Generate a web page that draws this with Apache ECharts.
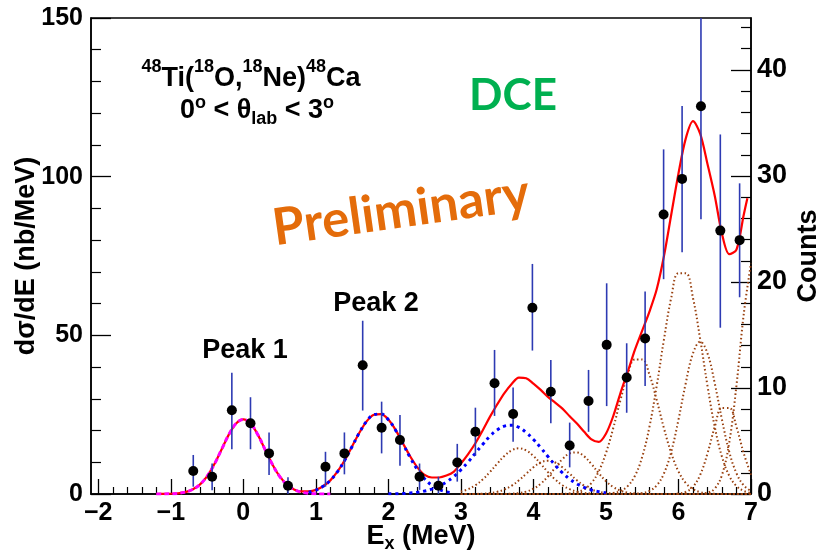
<!DOCTYPE html>
<html>
<head>
<meta charset="utf-8">
<script src="https://cdn.jsdelivr.net/npm/echarts@6/dist/echarts.min.js"></script>
<style>
html,body{margin:0;padding:0;background:#fff;}
#c{width:816px;height:554px;}
</style>
</head>
<body>
<div id="c"></div>
<script>
// ---- data points (E_x in MeV, dσ/dE in nb/MeV) ----
const pointE   = [-0.69,-0.43,-0.158,0.099,0.355,0.616,1.133,1.394,1.646,1.907,2.16,2.43,2.69,2.95,3.20,3.464,3.72,3.986,4.24,4.50,4.76,5.01,5.286,5.54,5.795,6.05,6.31,6.577,6.843];
const pointVal = [7.25,5.45,26.4,22.3,12.8,2.6,8.6,12.8,40.6,20.9,17.0,5.45,2.6,9.9,19.6,34.9,25.2,58.7,32.2,15.3,29.3,47.0,36.7,49.0,88.1,99.3,122.2,83.0,80.0];
const errLow   = [2.3,1.2,14.1,14.1,6.0,0,2.3,6.2,26.3,12.8,8.9,1.3,0,3.9,12.0,24.6,16.5,45.2,22.3,8.4,19.6,27.7,25.6,34.0,67.7,76.2,86.6,52.4,62.0];
const errHigh  = [12.3,9.6,38.2,30.5,19.4,5.3,13.3,19.4,54.6,29.1,24.9,9.6,5.45,15.8,27.2,45.4,33.6,72.5,42.2,22.5,39.1,66.4,47.5,63.8,108.6,122.3,158,113.3,97.9];

// ---- total fit (red) ----
const totalFit = [[-1.2,0.005],[-1.1,0.02],[-1.0,0.075],[-0.9,0.22],[-0.8,0.59],[-0.7,1.41],[-0.6,2.97],[-0.5,5.58],[-0.4,9.37],[-0.3,14.0],[-0.2,18.7],[-0.1,22.2],[0,23.5],[0.1,22.2],[0.2,18.7],[0.3,14.0],[0.4,9.4],[0.5,5.6],[0.6,3.0],[0.7,1.45],[0.8,0.8],[0.9,0.85],[1.0,1.3],[1.1,2.45],[1.2,4.3],[1.3,7.1],[1.4,10.7],[1.5,15.0],[1.6,19.3],[1.7,22.9],[1.8,25.0],[1.9,25.2],[2.0,23.5],[2.1,20.2],[2.2,16.0],[2.3,11.9],[2.4,8.4],[2.5,6.0],[2.6,5.2],[2.7,5.2],[2.8,5.8],[2.9,7.0],[3.0,9.6],[3.1,12.6],[3.2,16.0],[3.3,20.0],[3.4,24.3],[3.5,28.2],[3.6,31.8],[3.7,34.7],[3.8,36.7],[3.9,36.5],[4.0,34.8],[4.1,32.8],[4.2,30.6],[4.3,28.8],[4.4,26.9],[4.5,24.5],[4.6,22.2],[4.7,19.6],[4.8,17.2],[4.9,16.4],[5.0,19.0],[5.1,24.5],[5.2,31.8],[5.3,38.5],[5.4,45.5],[5.5,51.5],[5.6,57.5],[5.7,64.5],[5.8,75],[5.9,88],[6.0,101],[6.1,112],[6.2,117.5],[6.3,113.5],[6.4,104],[6.5,94],[6.6,82],[6.7,75.6],[6.8,77],[6.9,88],[6.95,93.2]];

// ---- Peak 1 component (magenta) ----
const peak1E   = [-1.2,-1.1,-1.0,-0.9,-0.8,-0.7,-0.6,-0.5,-0.4,-0.3,-0.2,-0.1,0,0.1,0.2,0.3,0.4,0.5,0.6,0.7,0.8,0.9,1.0,1.1,1.2];
const peak1Fit = [0.005,0.02,0.075,0.22,0.59,1.41,2.97,5.58,9.37,14.0,18.7,22.2,23.5,22.2,18.7,14.0,9.37,5.58,2.97,1.41,0.59,0.22,0.075,0.02,0.005];

// ---- Peak 2 component (blue) ----
const peak2E   = [0.9,1.0,1.1,1.2,1.3,1.4,1.5,1.6,1.7,1.8,1.9,2.0,2.1,2.2,2.3,2.4,2.5,2.6,2.7,2.8,2.9];
const peak2Fit = [0.59,1.24,2.41,4.29,7.06,10.7,14.97,19.3,22.9,25.0,25.2,23.4,20.1,15.85,11.5,7.72,4.77,2.72,1.43,0.69,0.31];

// ---- third blue component ----
const blue3E   = [2.0,2.1,2.2,2.3,2.4,2.5,2.6,2.7,2.8,2.9,3.0,3.1,3.2,3.3,3.4,3.5,3.6,3.7,3.8,3.9,4.0,4.1,4.2,4.3,4.4,4.5,4.6,4.7,4.8,4.9,5.0];
const blue3Fit = [0.04,0.08,0.15,0.3,0.53,0.93,1.55,2.47,3.76,5.48,7.62,10.1,12.9,15.6,18.2,20.2,21.4,21.7,21.0,19.4,17.2,14.6,11.8,9.1,6.7,4.74,3.19,2.06,1.27,0.75,0.42];

// ---- brown components ----
const brownE = [3.0,3.1,3.2,3.3,3.4,3.5,3.6,3.7,3.8,3.9,4.0,4.1,4.2,4.3,4.4,4.5,4.6,4.7,4.8,4.9,5.0,5.1,5.2,5.3,5.4,5.5,5.6,5.7,5.8,5.9,6.0,6.1,6.2,6.3,6.4,6.5,6.6,6.7,6.8,6.9,7.0];
const brown1 = [0.76,1.52,2.77,4.57,6.91,9.53,12.0,13.75,14.4,13.75,12.0,9.53,6.91,4.57,2.77,1.52,0.76,0.35,0.15,0.06,0,0,0,0,0,0,0,0,0,0,0,0,0,0,0,0,0,0,0,0,0];
const brown2 = [0,0.01,0.03,0.1,0.3,0.69,1.42,2.62,4.32,6.37,8.41,9.93,10.5,9.93,8.41,6.37,4.32,2.62,1.42,0.69,0.3,0.12,0,0,0,0,0,0,0,0,0,0,0,0,0,0,0,0,0,0,0];
const brown3 = [0,0,0,0,0,0,0,0.1,0.3,0.75,1.66,3.23,5.51,8.29,10.98,12.8,13.1,11.85,9.42,6.59,4.06,2.2,1.05,0.44,0.16,0.05,0,0,0,0,0,0,0,0,0,0,0,0,0,0,0];
const brown4 = [0,0,0,0,0,0,0,0,0,0,0,0,0,0,0.06,0.2,0.58,1.51,3.48,7.1,12.9,20.7,29.6,37.6,42.4,42.4,37.6,29.6,20.7,12.9,7.1,3.48,1.51,0.58,0.2,0.06,0,0,0,0,0];
const brown5 = [0,0,0,0,0,0,0,0,0,0,0,0,0,0,0,0,0,0,0,0,0.1,0.33,0.96,2.49,5.74,11.7,21.2,34.1,48.7,61.8,69.6,69.6,61.8,48.7,34.1,21.2,11.7,5.74,2.49,0.96,0.33];
const brown6 = [0,0,0,0,0,0,0,0,0,0,0,0,0,0,0,0,0,0,0,0,0,0,0,0,0.07,0.29,0.95,2.69,6.5,13.3,23.4,34.9,44.3,48,44.3,34.9,23.4,13.3,6.5,2.69,0.95];
const brown7 = [0,0,0,0,0,0,0,0,0,0,0,0,0,0,0,0,0,0,0,0,0,0,0,0,0,0,0,0,0,0,0.14,0.64,2.23,6.06,12.8,21.1,27.1,27.1,21.1,12.8,6.06];
const brown8 = [0,0,0,0,0,0,0,0,0,0,0,0,0,0,0,0,0,0,0,0,0,0,0,0,0,0,0,0,0,0,0,0,0,0,0.4,1.7,6.0,16.2,34.3,56.7,72.7];
const brownSets = [brown1,brown2,brown3,brown4,brown5,brown6,brown7,brown8];

// ---- axis ticks / labels ----
const xMajorTicks = [-2,-1,0,1,2,3,4,5,6,7];
const xMinorTicks = [-1.8,-1.6,-1.4,-1.2,-0.8,-0.6,-0.4,-0.2,0.2,0.4,0.6,0.8,1.2,1.4,1.6,1.8,2.2,2.4,2.6,2.8,3.2,3.4,3.6,3.8,4.2,4.4,4.6,4.8,5.2,5.4,5.6,5.8,6.2,6.4,6.6,6.8];
const yLeftMajor  = [0,50,100,150];
const yLeftMinor  = [10,20,30,40,60,70,80,90,110,120,130,140];
const yRightMajor = [0,10,20,30,40];
const yRightMinor = [2,4,6,8,12,14,16,18,22,24,26,28,32,34,36,38,42,44];

const FONT = 'Liberation Sans, Arial, Helvetica, sans-serif';
const pair = (xs, ys) => xs.map((x, i) => [x, ys[i]]);

const chart = echarts.init(document.getElementById('c'), null, {renderer: 'canvas'});

const brownSeries = brownSets.map(arr => ({
  type: 'line', xAxisIndex: 0, yAxisIndex: 0, data: pair(brownE, arr),
  showSymbol: false, smooth: 0.4, silent: true, z: 2,
  lineStyle: {color: '#99400f', width: 2, type: [1.5, 2.5]}
}));

const option = {
  animation: false,
  backgroundColor: '#fff',
  textStyle: {fontFamily: FONT},
  grid: {left: 91, right: 65, top: 18, bottom: 60, show: true, borderColor: '#000', borderWidth: 1.5,
         backgroundColor: 'transparent', containLabel: false, outerBoundsMode: 'none'},
  xAxis: [
    {
      type: 'value', min: -2.1, max: 7, position: 'bottom',
      axisLine: {show: true, onZero: false, lineStyle: {color: '#000', width: 1.5}},
      axisTick: {show: true, inside: true, length: 15, customValues: xMajorTicks, lineStyle: {color: '#000', width: 1.3}},
      axisLabel: {customValues: xMajorTicks, color: '#000', fontSize: 25, fontWeight: 'bold', fontFamily: FONT, margin: 7,
        formatter: v => (v < 0 ? '\u2212' + Math.abs(v) : String(v))},
      splitLine: {show: false},
      name: '{m|E}{s|x}{m| (MeV)}', nameLocation: 'middle', nameGap: 29, nameMoveOverlap: false,
      nameTextStyle: {rich: {
        m: {fontSize: 27, fontWeight: 'bold', fontFamily: FONT, color: '#000', lineHeight: 30, verticalAlign: 'top'},
        s: {fontSize: 18, fontWeight: 'bold', fontFamily: FONT, color: '#000', lineHeight: 12, verticalAlign: 'bottom', padding: [22, 0, 0, 0]}
      }}
    },
    {
      type: 'value', min: -2.1, max: 7, position: 'bottom',
      axisLine: {show: false, onZero: false}, axisLabel: {show: false}, splitLine: {show: false},
      axisTick: {show: true, inside: true, length: 7, customValues: xMinorTicks, lineStyle: {color: '#000', width: 1.2}}
    }
  ],
  yAxis: [
    {
      type: 'value', min: 0, max: 150, position: 'left',
      axisLine: {show: true, onZero: false, lineStyle: {color: '#000', width: 1.5}},
      axisTick: {show: true, inside: true, length: 20, customValues: yLeftMajor, lineStyle: {color: '#000', width: 1.3}},
      axisLabel: {customValues: yLeftMajor, color: '#000', fontSize: 25, fontWeight: 'bold', fontFamily: FONT, margin: 8},
      splitLine: {show: false},
      name: 'd\u03c3/dE (nb/MeV)', nameLocation: 'middle', nameRotate: 90, nameGap: 51, nameMoveOverlap: false,
      nameTextStyle: {fontSize: 27, fontWeight: 'bold', fontFamily: FONT, color: '#000'}
    },
    {
      type: 'value', min: 0, max: 150, position: 'left',
      axisLine: {show: false, onZero: false}, axisLabel: {show: false}, splitLine: {show: false},
      axisTick: {show: true, inside: true, length: 10, customValues: yLeftMinor, lineStyle: {color: '#000', width: 1.2}}
    },
    {
      type: 'value', min: 0, max: 44.9, position: 'right',
      axisLine: {show: true, onZero: false, lineStyle: {color: '#000', width: 1.5}},
      axisTick: {show: true, inside: true, length: 20, customValues: yRightMajor, lineStyle: {color: '#000', width: 1.3}},
      axisLabel: {customValues: yRightMajor, color: '#000', fontSize: 27, fontWeight: 'bold', fontFamily: FONT, margin: 6},
      splitLine: {show: false},
      name: 'Counts', nameLocation: 'middle', nameRotate: 90, nameGap: 44, nameMoveOverlap: false,
      nameTextStyle: {fontSize: 27, fontWeight: 'bold', fontFamily: FONT, color: '#000'}
    },
    {
      type: 'value', min: 0, max: 44.9, position: 'right',
      axisLine: {show: false, onZero: false}, axisLabel: {show: false}, splitLine: {show: false},
      axisTick: {show: true, inside: true, length: 10, customValues: yRightMinor, lineStyle: {color: '#000', width: 1.2}}
    }
  ],
  series: [
    ...brownSeries,
    {
      type: 'line', xAxisIndex: 0, yAxisIndex: 0, data: pair(blue3E, blue3Fit),
      showSymbol: false, smooth: 0.4, silent: true, z: 3,
      lineStyle: {color: '#0000ff', width: 3, type: [3, 4]}
    },
    {
      type: 'line', xAxisIndex: 0, yAxisIndex: 0, data: totalFit,
      showSymbol: false, smooth: 0.3, silent: true, z: 4,
      lineStyle: {color: '#ff0000', width: 2.2}
    },
    {
      type: 'line', xAxisIndex: 0, yAxisIndex: 0, data: pair(peak1E, peak1Fit),
      showSymbol: false, smooth: 0.4, silent: true, z: 5,
      lineStyle: {color: '#ff00ff', width: 3, type: [5, 3]}
    },
    {
      type: 'line', xAxisIndex: 0, yAxisIndex: 0, data: pair(peak2E, peak2Fit),
      showSymbol: false, smooth: 0.4, silent: true, z: 5,
      lineStyle: {color: '#0000ff', width: 3, type: [3, 4]}
    },
    {
      type: 'custom', xAxisIndex: 0, yAxisIndex: 0, clip: true, z: 6, silent: true,
      data: pointE.map((e, i) => [e, errLow[i], errHigh[i]]),
      encode: {x: 0, y: [1, 2]},
      renderItem: (params, api) => {
        const x = api.value(0);
        const p1 = api.coord([x, api.value(1)]);
        const p2 = api.coord([x, api.value(2)]);
        return {type: 'line', shape: {x1: p1[0], y1: p1[1], x2: p2[0], y2: p2[1]},
                style: {stroke: '#2d3ab3', lineWidth: 1.6}};
      }
    },
    {
      type: 'scatter', xAxisIndex: 0, yAxisIndex: 0, z: 7, silent: true,
      data: pair(pointE, pointVal), symbol: 'circle', symbolSize: 10,
      itemStyle: {color: '#000', opacity: 1}
    }
  ],
  graphic: [
    {type: 'text', x: 251, y: 75, z: 10, style: {
      text: '{s|48}{m|Ti(}{s|18}{m|O,}{s|18}{m|Ne)}{s|48}{m|Ca}',
      textAlign: 'center', textVerticalAlign: 'middle',
      rich: {
        m: {fontSize: 27, fontWeight: 'bold', fontFamily: FONT, fill: '#000', lineHeight: 34, verticalAlign: 'bottom'},
        s: {fontSize: 18, fontWeight: 'bold', fontFamily: FONT, fill: '#000', lineHeight: 12, verticalAlign: 'top'}
      }}},
    {type: 'text', x: 257, y: 111, z: 10, style: {
      text: '{m|0}{s|o}{m| < \u03b8}{b|lab}{m| < 3}{s|o}',
      textAlign: 'center', textVerticalAlign: 'middle',
      rich: {
        m: {fontSize: 27, fontWeight: 'bold', fontFamily: FONT, fill: '#000', lineHeight: 34, verticalAlign: 'middle'},
        s: {fontSize: 18, fontWeight: 'bold', fontFamily: FONT, fill: '#000', lineHeight: 12, verticalAlign: 'top'},
        b: {fontSize: 18, fontWeight: 'bold', fontFamily: FONT, fill: '#000', lineHeight: 12, verticalAlign: 'bottom'}
      }}},
    {type: 'text', x: 513, y: 96, z: 10, style: {text: 'DCE', fill: '#00B050', font: 'bold 44px Lato', textAlign: 'center', textVerticalAlign: 'middle'}},
    {type: 'text', x: 401, y: 211, z: 10, rotation: 8 * Math.PI / 180,
      style: {text: 'Preliminary', fill: '#E46C0A', font: 'bold 51px Lato', textAlign: 'center', textVerticalAlign: 'middle'}},
    {type: 'text', x: 245, y: 351, z: 10, style: {text: 'Peak 1', fill: '#000', font: 'bold 27px ' + FONT, textAlign: 'center', textVerticalAlign: 'middle'}},
    {type: 'text', x: 376, y: 304, z: 10, style: {text: 'Peak 2', fill: '#000', font: 'bold 27px ' + FONT, textAlign: 'center', textVerticalAlign: 'middle'}}
  ]
};
chart.setOption(option);
</script>
</body>
</html>
